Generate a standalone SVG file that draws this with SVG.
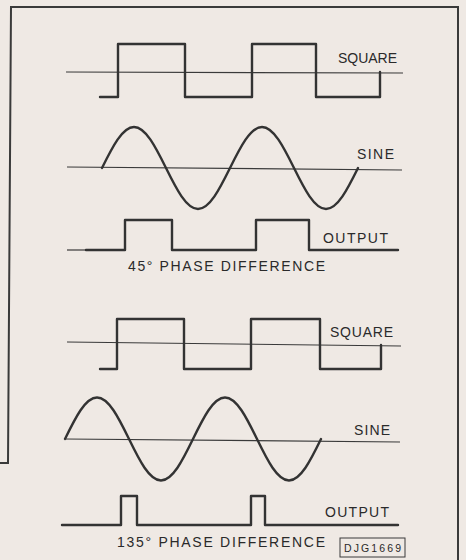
<svg xmlns="http://www.w3.org/2000/svg" width="466" height="560" viewBox="0 0 466 560">
<style>
.bg{fill:#efe9e4}
.frame{fill:none;stroke:#3a3a3a;stroke-width:2}
.axis{fill:none;stroke:#3a3a3a;stroke-width:1.2}
.wave{fill:none;stroke:#333;stroke-width:2.4;stroke-linejoin:round;stroke-linecap:round}
.lbl{font-family:"Liberation Sans",Arial,sans-serif;font-size:14px;fill:#2a2a2a}
.tag{font-family:"Liberation Sans",Arial,sans-serif;font-size:10.5px;fill:#2a2a2a}
</style>
<rect class="bg" x="0" y="0" width="466" height="560"/>
<g id="frame">
<path class="frame" d="M0,463 H8 L11,7 H458 V560"/>
</g>
<g id="square1">
<path class="axis" d="M66,72 L403,73"/>
<path class="wave" d="M100,97 H118 V44 H185 V97 H252 V44 H316 V97 H380 V72"/>
<text class="lbl" x="338" y="63" textLength="59" lengthAdjust="spacing">SQUARE</text>
</g>
<g id="sine1">
<path class="axis" d="M67,167 L402,170"/>
<path class="wave" d="M102,168 C112.4,147 122.4,127 134,127 C145.6,127 155.6,147 166,168 C176.4,189 186.4,209 198,209 C209.6,209 219.6,189 230,168 C240.4,147 250.4,127 262,127 C273.6,127 283.6,147 294,168 C304.4,189 314.4,209 326,209 C337.6,209 347.6,189 358,168"/>
<text class="lbl" x="357" y="159" textLength="37" lengthAdjust="spacing">SINE</text>
</g>
<g id="output1">
<path class="axis" d="M67,250 H86"/>
<path class="wave" d="M86,250 H125 V220 H172 V250 H256 V220 H309 V250 H398"/>
<text class="lbl" x="323" y="243" textLength="65" lengthAdjust="spacing">OUTPUT</text>
<text class="lbl" x="128" y="271" textLength="197" lengthAdjust="spacing">45° PHASE DIFFERENCE</text>
</g>
<g id="square2">
<path class="axis" d="M67,342 L401,346"/>
<path class="wave" d="M100,369 H117 V319 H184 V369 H251 V319 H320 V369 H381 V345"/>
<text class="lbl" x="330" y="337" textLength="63" lengthAdjust="spacing">SQUARE</text>
</g>
<g id="sine2">
<path class="axis" d="M65,439 L400,442"/>
<path class="wave" d="M65,439 C75.4,417.7 85.4,397.5 97,397.5 C108.6,397.5 118.6,417.7 129,439 C139.4,460.3 149.4,480.5 161,480.5 C172.6,480.5 182.6,460.3 193,439 C203.4,417.7 213.4,397.5 225,397.5 C236.6,397.5 246.6,417.7 257,439 C267.4,460.3 277.4,480.5 289,480.5 C300.6,480.5 310.6,460.3 321,439"/>
<text class="lbl" x="354" y="435" textLength="36" lengthAdjust="spacing">SINE</text>
</g>
<g id="output2">
<path class="wave" d="M62,525 H121 V496 H137 V525 H251 V496 H265 V525 H398"/>
<text class="lbl" x="325" y="517" textLength="64" lengthAdjust="spacing">OUTPUT</text>
<text class="lbl" x="117" y="547" textLength="208" lengthAdjust="spacing">135° PHASE DIFFERENCE</text>
</g>
<g id="ref-tag">
<rect x="340" y="538" width="65" height="19" fill="none" stroke="#3a3a3a" stroke-width="1"/>
<text class="tag" x="372.5" y="551.5" text-anchor="middle" textLength="57" lengthAdjust="spacing">DJG1669</text>
</g>
</svg>
